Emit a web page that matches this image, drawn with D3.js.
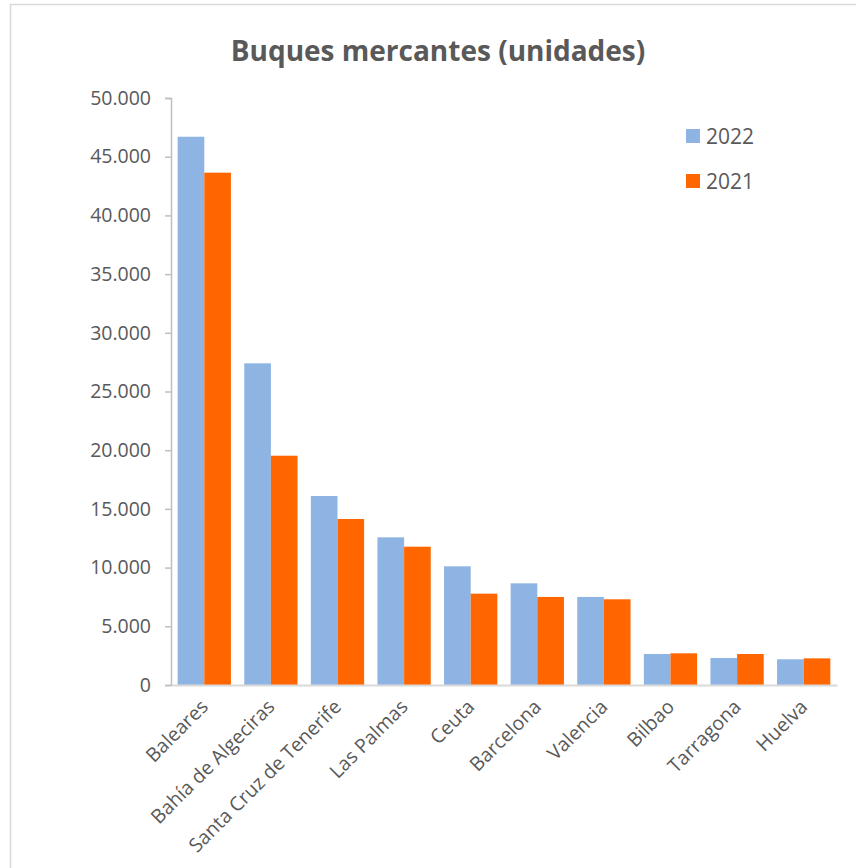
<!DOCTYPE html>
<html>
<head>
<meta charset="utf-8">
<script src="https://cdn.jsdelivr.net/npm/d3@7"></script>
<style>
  body { margin: 0; background: #fff; }
  svg text { font-family: "Open Sans", "Liberation Sans", sans-serif; fill: #595959; }
</style>
</head>
<body>
<svg id="chart"></svg>
<script>
// puertos y valores (unidades)
const ports = ["Baleares", "Bahía de Algeciras", "Santa Cruz de Tenerife", "Las Palmas", "Ceuta",
               "Barcelona", "Valencia", "Bilbao", "Tarragona", "Huelva"];
const series = ["2022", "2021"];
const values2022 = [46700, 27400, 16100, 12580, 10110, 8660, 7500, 2640, 2300, 2190];
const values2021 = [43640, 19530, 14140, 11780, 7780, 7500, 7300, 2700, 2640, 2270];
const yTicks = [0, 5000, 10000, 15000, 20000, 25000, 30000, 35000, 40000, 45000, 50000];
const colors = ["#8eb4e3", "#ff6600"];

const width = 856, height = 868;
const margin = { top: 98, right: 19, bottom: 183, left: 171 };

const svg = d3.select("#chart").attr("width", width).attr("height", height);

// outer frame
svg.append("rect")
  .attr("x", 10.5).attr("y", 4.5)
  .attr("width", width).attr("height", height)
  .attr("fill", "none").attr("stroke", "#d9d9d9").attr("stroke-width", 1.5);

svg.append("text")
  .attr("x", 438).attr("y", 61)
  .attr("text-anchor", "middle")
  .attr("font-size", "28px")
  .attr("font-weight", "bold")
  .text("Buques mercantes (unidades)");

const chart = svg.append("g")
  .attr("transform", `translate(${margin.left},${margin.top})`);

const w = width - margin.left - margin.right;
const h = height - margin.top - margin.bottom;

const x = d3.scaleBand().domain(ports).range([0, w]).paddingInner(0.2).paddingOuter(0.1);
const xs = d3.scaleBand().domain(series).range([0, x.bandwidth()]);
const y = d3.scaleLinear().domain([0, 50000]).range([h, 0]);

const fmt = d3.formatLocale({ decimal: ",", thousands: ".", grouping: [3], currency: ["", "€"] }).format(",");

// y axis
const yAxis = chart.append("g")
  .call(d3.axisLeft(y).tickValues(yTicks).tickSize(6).tickPadding(14).tickFormat(d => fmt(d)));
yAxis.select(".domain").attr("stroke", "#bfbfbf").attr("stroke-width", 1.5);
yAxis.selectAll(".tick line").attr("stroke", "#bfbfbf").attr("stroke-width", 1.5);
yAxis.selectAll("text").attr("font-size", "19.5px").attr("fill", "#595959");

// bars
const data = ports.map((p, i) => ({ port: p, vals: [values2022[i], values2021[i]] }));
chart.selectAll(".grp")
  .data(data)
  .join("g")
    .attr("class", "grp")
    .attr("transform", d => `translate(${x(d.port)},0)`)
  .selectAll("rect")
  .data(d => d.vals.map((v, j) => ({ key: series[j], v: v, c: colors[j] })))
  .join("rect")
    .attr("x", d => xs(d.key))
    .attr("y", d => y(d.v))
    .attr("width", xs.bandwidth())
    .attr("height", d => h - y(d.v))
    .attr("fill", d => d.c);

// x axis
const xAxis = chart.append("g")
  .attr("transform", `translate(0,${h})`)
  .call(d3.axisBottom(x).tickSize(0).tickPadding(0));
xAxis.select(".domain").attr("stroke", "#d9d9d9").attr("stroke-width", 2);
xAxis.selectAll("text")
  .attr("font-size", "19.5px")
  .attr("fill", "#595959")
  .attr("text-anchor", "end")
  .attr("dy", null)
  .attr("transform", "translate(5,23) rotate(-45)");

// legend
const legend = svg.append("g").attr("transform", "translate(686,129)");
series.forEach((s, i) => {
  const g = legend.append("g").attr("transform", `translate(0,${i * 45})`);
  g.append("rect").attr("width", 14).attr("height", 14).attr("fill", colors[i]);
  g.append("text").attr("x", 20).attr("y", 14.5).attr("font-size", "21px").text(s);
});
</script>
</body>
</html>
